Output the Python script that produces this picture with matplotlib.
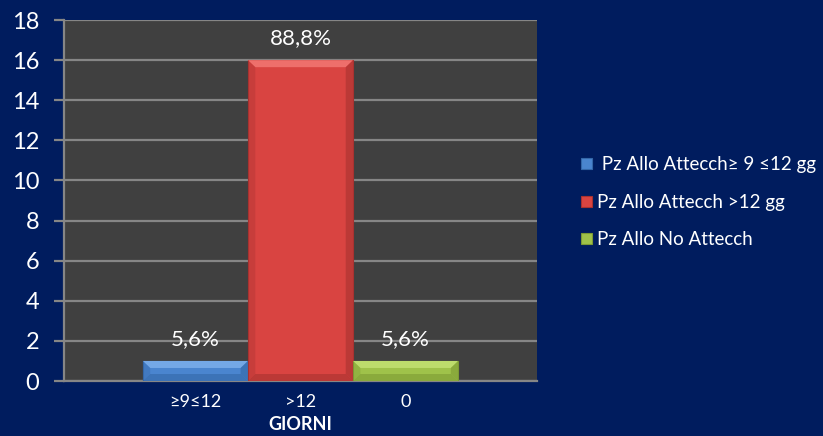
import matplotlib
matplotlib.use("Agg")
import matplotlib.pyplot as plt
from matplotlib.patches import Polygon, Rectangle
import numpy as np

plt.rcParams['font.family'] = ['Lato', 'DejaVu Sans']

# data
series = [" Pz Allo Attecch\u2265 9 \u226412 gg", "Pz Allo Attecch >12 gg", "Pz Allo No Attecch"]
tick_labels = ["\u22659\u226412", ">12", "0"]
values = [1, 16, 1]
value_labels = ["5,6%", "88,8%", "5,6%"]
colors = ["#4a85cf", "#d94441", "#9fc24a"]
dark = ["#3467a8", "#a83230", "#7c9a34"]
light = ["#74a8e6", "#ee6f6b", "#bddc6c"]

bg = "#001c5e"
fig = plt.figure(figsize=(8.23, 4.36), dpi=100, facecolor=bg)
ax = fig.add_axes([0.0778, 0.1261, 0.5747, 0.8279])
ax.set_facecolor("#404040")

x = np.arange(len(values)) - 1.0
w = 1.0
ax.set_xlim(-2.25, 2.25)
ax.set_ylim(0, 18)
ax.set_yticks(range(0, 19, 2))
ax.yaxis.grid(True, color="#868686", linewidth=1.6)
ax.set_axisbelow(True)

# bevel size in data units
bx, by = 0.07, 0.35
for xi, v, c, d, l, lab in zip(x, values, colors, dark, light, value_labels):
    x0, x1 = xi - w / 2, xi + w / 2
    ax.bar(xi, v, width=w, color=c, edgecolor=d, linewidth=0.8, zorder=3)
    # top and side bevels
    ax.add_patch(Polygon([(x0, v), (x1, v), (x1 - bx, v - by), (x0 + bx, v - by)],
                         closed=True, facecolor=l, edgecolor="none", zorder=4))
    ax.add_patch(Polygon([(x0, 0), (x1, 0), (x1 - bx, by), (x0 + bx, by)],
                         closed=True, facecolor=d, edgecolor="none", alpha=0.6, zorder=4))
    ax.add_patch(Polygon([(x0, 0), (x0, v), (x0 + bx, v - by), (x0 + bx, by)],
                         closed=True, facecolor=d, edgecolor="none", alpha=0.35, zorder=4))
    ax.add_patch(Polygon([(x1, 0), (x1, v), (x1 - bx, v - by), (x1 - bx, by)],
                         closed=True, facecolor=d, edgecolor="none", alpha=0.6, zorder=4))
    ax.text(xi, v + 0.6, lab, ha="center", va="bottom", color="white", fontsize=16, zorder=5)

ax.set_xticks(x)
ax.set_xticklabels(tick_labels, color="white", fontsize=13)
ax.tick_params(axis="x", length=0, pad=9)
ax.tick_params(axis="y", colors="white", labelsize=17, length=7, width=1.6, pad=11)
ax.tick_params(axis="y", which="both", color="#868686")
for s in ["top", "right"]:
    ax.spines[s].set_visible(False)
ax.spines["left"].set_color("#868686")
ax.spines["left"].set_linewidth(1.6)
ax.spines["bottom"].set_color("#868686")
ax.spines["bottom"].set_linewidth(1.6)
ax.set_xlabel("GIORNI", color="white", fontsize=13, fontweight="bold", labelpad=5)

# legend
handles = [Rectangle((0, 0), 1, 1, facecolor=c, edgecolor=d, linewidth=0.8)
           for c, d in zip(colors, dark)]
leg = fig.legend(handles, series, loc="center left", bbox_to_anchor=(0.686, 0.536),
                 frameon=False, fontsize=13.5, labelcolor="white", handlelength=0.55,
                 handleheight=0.55, handletextpad=0.3, labelspacing=1.1)

fig.savefig("out.png", dpi=100, facecolor=bg)
